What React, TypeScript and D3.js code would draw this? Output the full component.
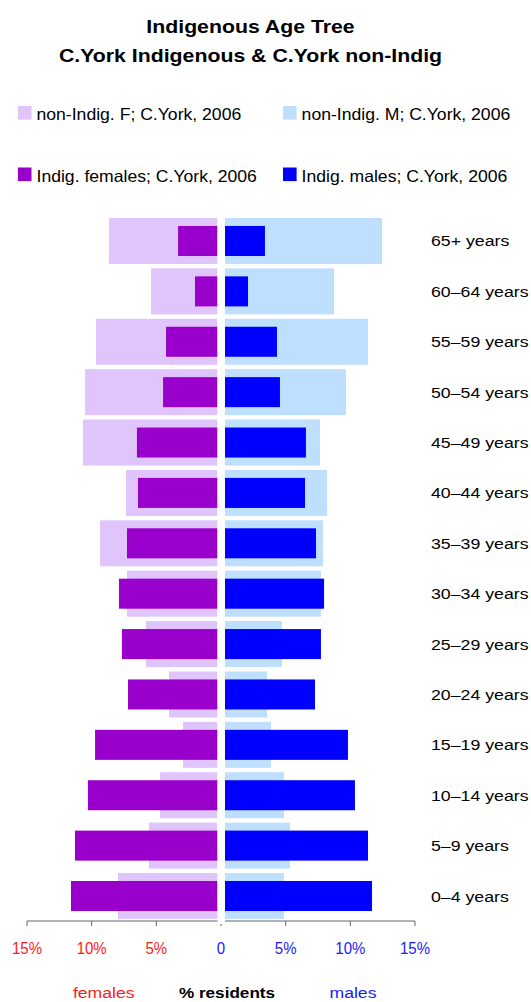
import React from "react";
import * as d3 from "d3";

const ages = ["65+ years","60–64 years","55–59 years","50–54 years","45–49 years","40–44 years","35–39 years","30–34 years","25–29 years","20–24 years","15–19 years","10–14 years","5–9 years","0–4 years"];
const nonIndigF = [8.39,5.14,9.40,10.25,10.40,7.08,9.09,7.00,5.53,3.75,2.67,4.45,5.30,7.70];
const nonIndigM = [12.14,8.43,11.06,9.36,7.35,7.89,7.58,7.42,4.41,3.25,3.56,4.56,5.03,4.56];
const indigF = [3.05,1.74,3.98,4.21,6.23,6.15,7.00,7.62,7.39,6.92,9.47,10.02,11.02,11.33];
const indigM = [3.09,1.78,4.02,4.25,6.26,6.19,7.04,7.66,7.42,6.96,9.51,10.05,11.06,11.37];
const tickValues = [-15,-10,-5,0,5,10,15];
const tickLabels = ["15%","10%","5%","0","5%","10%","15%"];
const legendItems = [
  { label: "non-Indig. F; C.York, 2006", color: "#E0C4FC" },
  { label: "non-Indig. M; C.York, 2006", color: "#BFDFFF" },
  { label: "Indig. females; C.York, 2006", color: "#9900CC" },
  { label: "Indig. males; C.York, 2006", color: "#0000FF" },
];
const titleLines = ["Indigenous Age Tree", "C.York Indigenous & C.York non-Indig"];

const FONT = "'Liberation Sans', Arial, Helvetica, sans-serif";

function SText({ x, y, sx = 1, size, anchor = "start", weight = "normal", fill = "#000", children }: any) {
  return (
    <text
      transform={`translate(${x},${y}) scale(${sx},1)`}
      fontSize={size}
      fontWeight={weight}
      textAnchor={anchor}
      fill={fill}
      fontFamily={FONT}
    >
      {children}
    </text>
  );
}

export default function App() {
  const W = 531, H = 1002;
  const y = d3.scaleBand<string>().domain(ages).range([215.8, 921.2]).paddingInner(0).paddingOuter(0);
  const step = y.step();
  const lightH = step * 0.913;
  const darkH = step * 0.596;
  const fScale = d3.scaleLinear().domain([0, 15]).range([217.5, 217.5 - 15 * 12.93]);
  const mScale = d3.scaleLinear().domain([0, 15]).range([225, 225 + 15 * 12.93]);
  const axis = d3.scaleLinear().domain([-15, 15]).range([27, 415]);
  const axisY = 921;

  const col = (v: number[], side: "f" | "m", color: string, h: number, key: string) =>
    ages.map((a, i) => {
      const cy = (y(a) as number) + step / 2;
      const x0 = side === "f" ? fScale(v[i]) : mScale(0);
      const x1 = side === "f" ? fScale(0) : mScale(v[i]);
      return <rect key={key + i} x={x0} y={cy - h / 2} width={x1 - x0} height={h} fill={color} />;
    });

  return (
    <svg width={W} height={H} style={{ position: "absolute", left: 0, top: 0, background: "#fff" }}>
      <rect x={0} y={0} width={W} height={H} fill="#fff" />
      {/* title */}
      <SText x={250.5} y={33} sx={1.15} size={18.5} weight="bold" anchor="middle">{titleLines[0]}</SText>
      <SText x={250.5} y={62} sx={1.15} size={18.5} weight="bold" anchor="middle">{titleLines[1]}</SText>
      {/* legend */}
      {legendItems.map((it, i) => {
        const cx = i % 2 === 0 ? 17.9 : 283;
        const ry = i < 2 ? 106 : 167.5;
        return (
          <g key={"lg" + i}>
            <rect x={cx} y={ry} width={13.6} height={13.6} fill={it.color} />
            <SText x={cx + 18.6} y={ry + 14.3} sx={1.08} size={16.3}>{it.label}</SText>
          </g>
        );
      })}
      {/* axis */}
      <line x1={axis(-15)} x2={axis(15)} y1={axisY} y2={axisY} stroke="#666" strokeWidth={1} />
      {tickValues.map((t, i) => (
        <line key={"t" + i} x1={axis(t)} x2={axis(t)} y1={axisY} y2={axisY + 5} stroke="#666" strokeWidth={1} />
      ))}
      {/* bars */}
      {col(nonIndigF, "f", "#E0C4FC", lightH, "nf")}
      {col(nonIndigM, "m", "#BFDFFF", lightH, "nm")}
      {col(indigF, "f", "#9900CC", darkH, "if")}
      {col(indigM, "m", "#0000FF", darkH, "im")}
      <rect x={217.5} y={210} width={7.5} height={axisY + 3 - 210} fill="#fff" />
      {/* age labels */}
      {ages.map((a) => (
        <SText key={"a" + a} x={431} y={(y(a) as number) + step / 2 + 5.5} sx={1.16} size={15.3}>{a}</SText>
      ))}
      {/* tick labels */}
      {tickValues.map((t, i) => (
        <SText key={"tl" + i} x={axis(t)} y={954} sx={0.95} size={15.8} anchor="middle" fill={t < 0 ? "#FF1A1A" : "#1A1AFF"}>
          {tickLabels[i]}
        </SText>
      ))}
      {/* bottom labels */}
      <SText x={103.7} y={998} sx={1.15} size={15.3} anchor="middle" fill="#FF1A1A">females</SText>
      <SText x={227} y={998} sx={1.12} size={15.3} anchor="middle" weight="bold">% residents</SText>
      <SText x={353} y={998} sx={1.15} size={15.3} anchor="middle" fill="#1A1AFF">males</SText>
    </svg>
  );
}
